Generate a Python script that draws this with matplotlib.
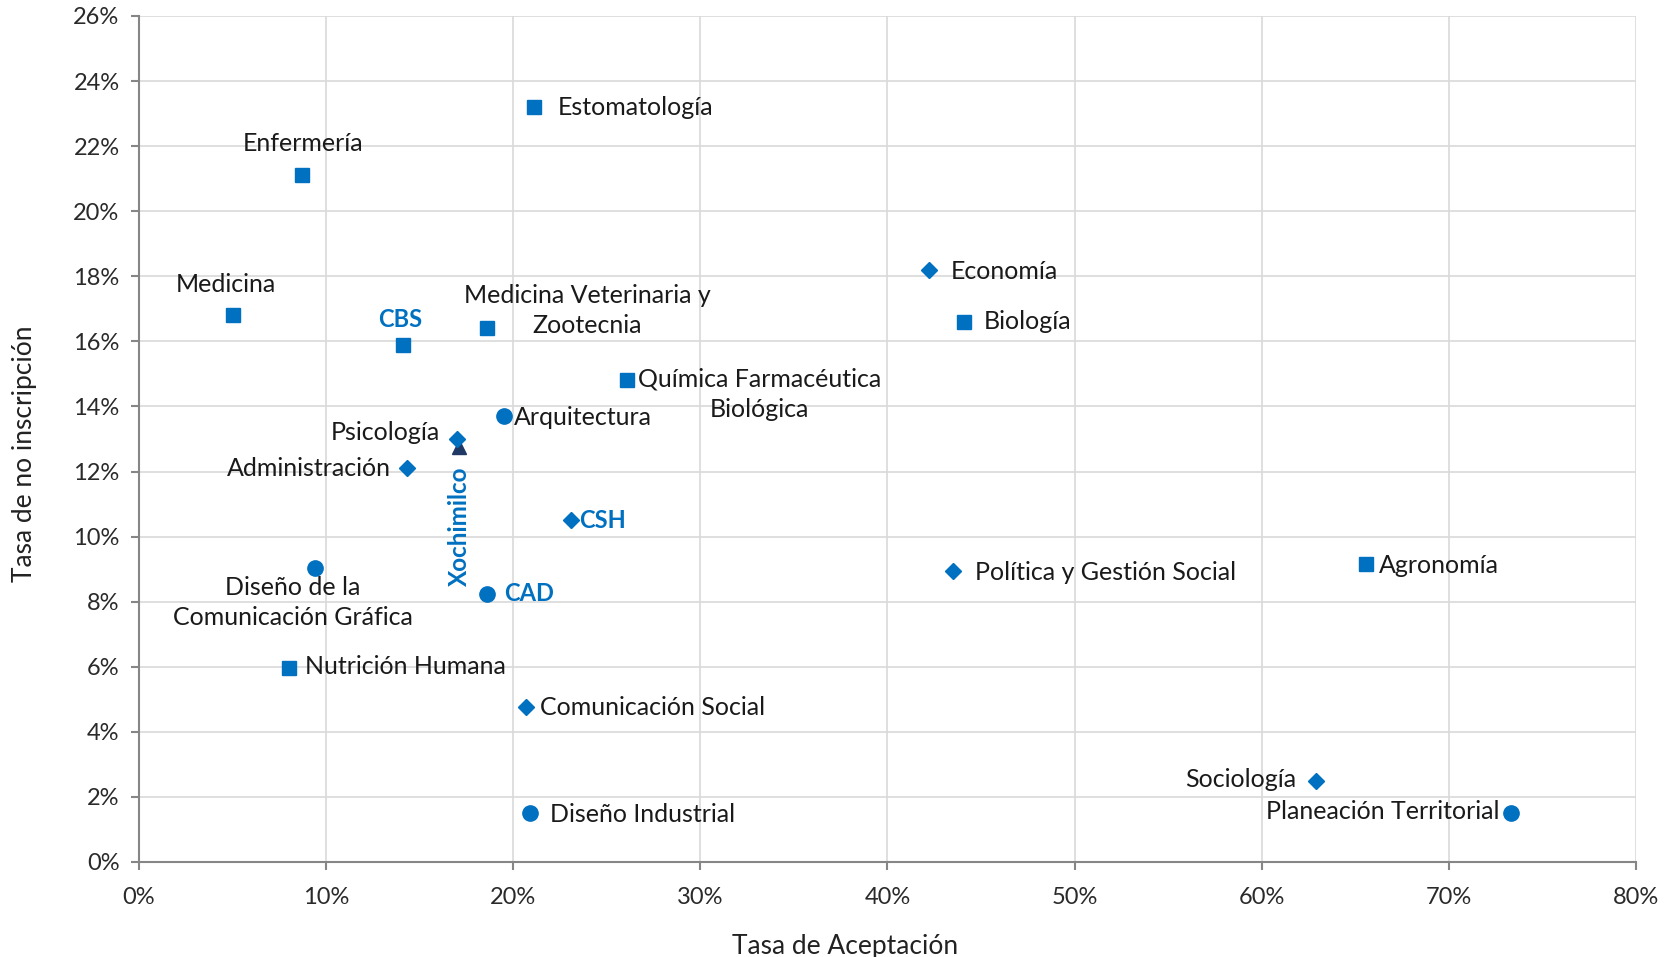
import matplotlib.pyplot as plt
from matplotlib.ticker import PercentFormatter

plt.rcParams['font.family'] = ['Lato', 'DejaVu Sans']

## Data: (Tasa de Aceptación %, Tasa de no inscripción %)
cbs_names = ['Estomatología', 'Enfermería', 'Medicina', 'CBS', 'Medicina Veterinaria y\nZootecnia',
             'Química Farmacéutica\nBiológica', 'Nutrición Humana', 'Biología', 'Agronomía']
cbs_x = [21.1, 8.7, 5.0, 14.1, 18.6, 26.1, 8.0, 44.1, 65.6]
cbs_y = [23.2, 21.1, 16.8, 15.9, 16.4, 14.8, 5.95, 16.6, 9.15]

csh_names = ['Economía', 'Psicología', 'Administración', 'CSH', 'Comunicación Social',
             'Política y Gestión Social', 'Sociología']
csh_x = [42.2, 17.0, 14.3, 23.1, 20.7, 43.5, 62.9]
csh_y = [18.2, 13.0, 12.1, 10.5, 4.75, 8.95, 2.5]

cad_names = ['Arquitectura', 'Diseño de la\nComunicación Gráfica', 'CAD', 'Diseño Industrial',
             'Planeación Territorial']
cad_x = [19.5, 9.4, 18.6, 20.9, 73.3]
cad_y = [13.7, 9.05, 8.25, 1.5, 1.5]

xoc_names = ['Xochimilco']
xoc_x = [17.1]
xoc_y = [12.75]

blue = '#0070C0'
navy = '#1F3864'
bold_labels = ['CBS', 'CSH', 'CAD', 'Xochimilco']

# label offsets in points and horizontal alignment
offsets = {
    'Estomatología': (17, 0, 'left'),
    'Enfermería': (1, 23, 'center'),
    'Medicina': (-5, 22, 'center'),
    'CBS': (-2, 18, 'center'),
    'Medicina Veterinaria y\nZootecnia': (72, 13, 'center'),
    'Química Farmacéutica\nBiológica': (95, -10, 'center'),
    'Nutrición Humana': (12, 1, 'left'),
    'Biología': (14, 0, 'left'),
    'Agronomía': (9, -1, 'left'),
    'Economía': (16, -1, 'left'),
    'Psicología': (-12, 5, 'right'),
    'Administración': (-11, 0, 'right'),
    'CSH': (6, 0, 'left'),
    'Comunicación Social': (10, 0, 'left'),
    'Política y Gestión Social': (16, -1, 'left'),
    'Sociología': (-14, 1, 'right'),
    'Arquitectura': (7, -1, 'left'),
    'Diseño de la\nComunicación Gráfica': (-16, -25, 'center'),
    'CAD': (12, 0, 'left'),
    'Diseño Industrial': (14, -1, 'left'),
    'Planeación Territorial': (-8, 1, 'right'),
}

fig = plt.figure(figsize=(16.77, 9.57), dpi=100)
ax = fig.add_axes([0.0829, 0.0993, 0.8926, 0.884])

ax.plot(cbs_x, cbs_y, 's', color=blue, markersize=10.5, linestyle='none', zorder=3)
ax.plot(csh_x, csh_y, 'D', color=blue, markersize=8, linestyle='none', zorder=3)
ax.plot(cad_x, cad_y, 'o', color=blue, markersize=11, linestyle='none', zorder=3)
ax.plot(xoc_x, xoc_y, '^', color=navy, markersize=10, linestyle='none', zorder=2)

for names, xs, ys in [(cbs_names, cbs_x, cbs_y), (csh_names, csh_x, csh_y), (cad_names, cad_x, cad_y)]:
    for n, x, y in zip(names, xs, ys):
        dx, dy, ha = offsets[n]
        bold = n in bold_labels
        ax.annotate(n, (x, y), xytext=(dx, dy), textcoords='offset points', ha=ha, va='center',
                    fontsize=18 if not bold else 17, fontweight='bold' if bold else 'normal',
                    color=blue if bold else '#1a1a1a', linespacing=1.35)

ax.annotate(xoc_names[0], (xoc_x[0], xoc_y[0]), xytext=(0, -57), textcoords='offset points',
            ha='center', va='center', rotation=90, fontsize=17.5, fontweight='bold', color=blue)

ax.set_xlim(0, 80)
ax.set_ylim(0, 26)
ax.set_xticks(range(0, 81, 10))
ax.set_yticks(range(0, 27, 2))
ax.xaxis.set_major_formatter(PercentFormatter(decimals=0))
ax.yaxis.set_major_formatter(PercentFormatter(decimals=0))
ax.grid(True, color='#d9d9d9', linewidth=1.2)
ax.set_axisbelow(True)
for s in ['top', 'right']:
    ax.spines[s].set_visible(False)
for s in ['left', 'bottom']:
    ax.spines[s].set_color('#868686')
    ax.spines[s].set_linewidth(1.5)
ax.tick_params(axis='both', colors='#868686', labelcolor='#2a2a2a', labelsize=17, length=6, width=1.5)
ax.tick_params(axis='x', pad=12)
ax.tick_params(axis='y', pad=8)

ax.set_xlabel('Tasa de Aceptación', fontsize=19, color='#222222')
ax.set_ylabel('Tasa de no inscripción', fontsize=19, color='#222222')
ax.xaxis.set_label_coords(0.472, -0.085)
ax.yaxis.set_label_coords(-0.068, 0.482)

fig.savefig('out.png', dpi=100)
